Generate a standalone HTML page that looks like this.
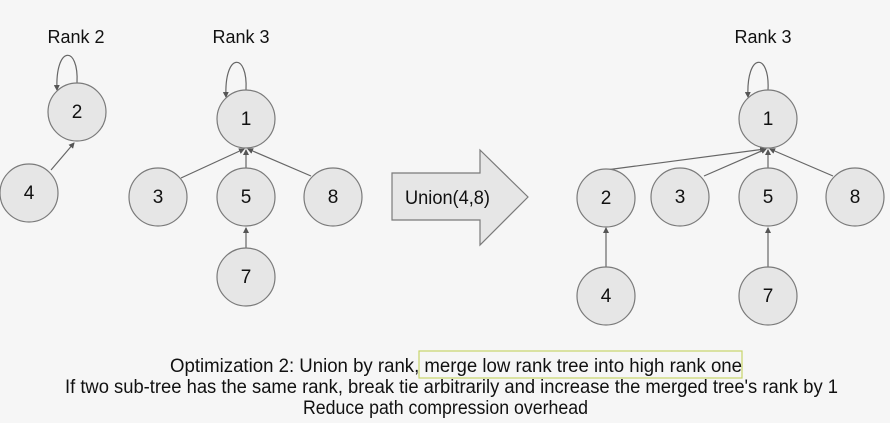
<!DOCTYPE html>
<html><head><meta charset="utf-8"><style>
html,body{margin:0;padding:0;background:#f6f6f6;}
svg{display:block;}
text{font-family:"Liberation Sans",Arial,sans-serif;fill:#111;}
</style></head><body>
<svg width="890" height="423" viewBox="0 0 890 423" xmlns="http://www.w3.org/2000/svg">
<defs>
<marker id="a" markerWidth="6" markerHeight="6" refX="5" refY="3" orient="auto" markerUnits="userSpaceOnUse">
<path d="M0,0 L6,3 L0,6 z" fill="#555"/></marker>
</defs>
<rect width="890" height="423" fill="#f6f6f6"/>
<g font-size="18" text-anchor="middle">
<text x="76" y="43">Rank 2</text>
<text x="241" y="43">Rank 3</text>
<text x="763" y="43">Rank 3</text>
</g>
<g stroke="#666" stroke-width="1.2" fill="none">
<path d="M77,83 C79,45 55,45 57,90" marker-end="url(#a)"/>
<line x1="51" y1="170" x2="74" y2="143" marker-end="url(#a)"/>
<path d="M246,90 C248,52 224,52 226,97" marker-end="url(#a)"/>
<line x1="181" y1="178" x2="244" y2="149" marker-end="url(#a)"/>
<line x1="246" y1="168" x2="246" y2="150" marker-end="url(#a)"/>
<line x1="311" y1="176" x2="248" y2="149" marker-end="url(#a)"/>
<line x1="246" y1="248" x2="246" y2="228" marker-end="url(#a)"/>
<path d="M768,90 C770,52 746,52 748,97" marker-end="url(#a)"/>
<line x1="606" y1="170" x2="765" y2="149" marker-end="url(#a)"/>
<line x1="704" y1="176" x2="766" y2="149" marker-end="url(#a)"/>
<line x1="768" y1="168" x2="768" y2="150" marker-end="url(#a)"/>
<line x1="833" y1="176" x2="770" y2="149" marker-end="url(#a)"/>
<line x1="606" y1="267" x2="606" y2="228" marker-end="url(#a)"/>
<line x1="768" y1="267" x2="768" y2="228" marker-end="url(#a)"/>
</g>
<path d="M98,120 L103,127 L97,125 z" fill="#333"/>
<g fill="#e6e6e6" stroke="#7a7a7a" stroke-width="1.2">
<circle cx="77" cy="112" r="29"/>
<circle cx="29" cy="193" r="29"/>
<circle cx="246" cy="119" r="29"/>
<circle cx="158" cy="197" r="29"/>
<circle cx="246" cy="197" r="29"/>
<circle cx="333" cy="197" r="29"/>
<circle cx="246" cy="277" r="29"/>
<circle cx="768" cy="119" r="29"/>
<circle cx="606" cy="198" r="29"/>
<circle cx="680" cy="197" r="29"/>
<circle cx="768" cy="197" r="29"/>
<circle cx="855" cy="197" r="29"/>
<circle cx="606" cy="296" r="29"/>
<circle cx="768" cy="296" r="29"/>
</g>
<g font-size="19" text-anchor="middle">
<text x="77" y="118">2</text>
<text x="29" y="199">4</text>
<text x="246" y="125">1</text>
<text x="158" y="203">3</text>
<text x="246" y="203">5</text>
<text x="333" y="203">8</text>
<text x="246" y="283">7</text>
<text x="768" y="125">1</text>
<text x="606" y="204">2</text>
<text x="680" y="203">3</text>
<text x="768" y="203">5</text>
<text x="855" y="203">8</text>
<text x="606" y="302">4</text>
<text x="768" y="302">7</text>
</g>
<path d="M392,173 L480,173 L480,150 L528,197 L480,245 L480,220 L392,220 z" fill="#e6e6e6" stroke="#7a7a7a" stroke-width="1.2"/>
<text x="405" y="204" font-size="19" textLength="85" lengthAdjust="spacingAndGlyphs">Union(4,8)</text>
<rect x="419" y="351" width="323" height="27" fill="none" stroke="#c8d46a" stroke-width="1.2"/>
<g font-size="19">
<text x="170" y="372" textLength="572" lengthAdjust="spacingAndGlyphs">Optimization 2: Union by rank, merge low rank tree into high rank one</text>
<text x="65" y="393" textLength="773" lengthAdjust="spacingAndGlyphs">If two sub-tree has the same rank, break tie arbitrarily and increase the merged tree's rank by 1</text>
<text x="303" y="414" textLength="285" lengthAdjust="spacingAndGlyphs">Reduce path compression overhead</text>
</g>
</svg>
</body></html>
